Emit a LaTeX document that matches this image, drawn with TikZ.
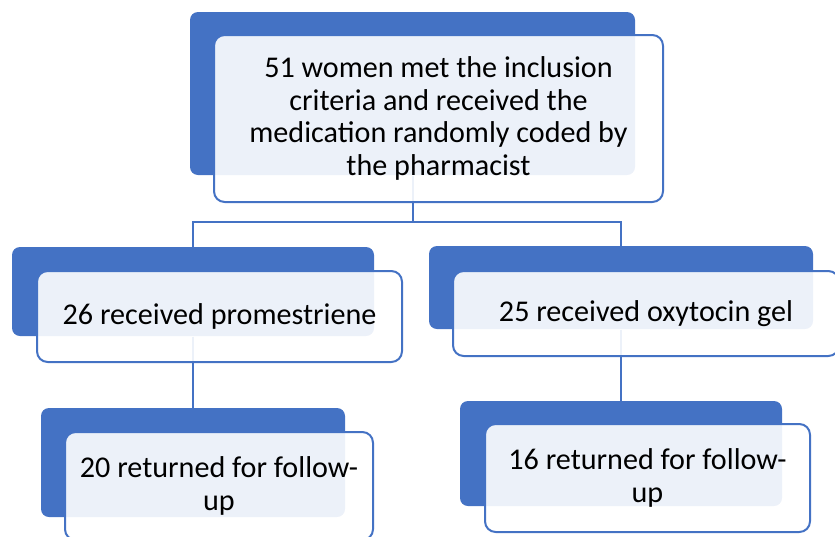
\documentclass[tikz,border=0pt]{standalone}
\usepackage{fontspec}
\setmainfont{Carlito}
\usetikzlibrary{backgrounds}

\definecolor{smartblue}{RGB}{68,114,196}

\tikzset{every picture/.style={line width=0.75pt}}
\tikzset{
  backbox/.style={fill=smartblue, rounded corners=6pt, inner sep=0pt},
  frontbox/.style={draw=smartblue, line width=1.5pt, fill=white, fill opacity=0.9, text opacity=1,
    rounded corners=8pt, inner sep=0pt, align=center, font=\fontsize{22.6}{24.5}\selectfont},
  conn/.style={draw=smartblue, line width=1.5pt}
}

\begin{document}
\begin{tikzpicture}[x=0.75pt,y=0.75pt,yscale=-1,xscale=1]
\useasboundingbox (0,0) rectangle (835,536);

% Back boxes
\node [backbox, minimum width=333.75pt, minimum height=122.25pt] (topbk) at (412.5,93.5) {};
\node [backbox, minimum width=271.5pt, minimum height=66.75pt] (prombk) at (193,291.5) {};
\node [backbox, minimum width=288pt, minimum height=62.25pt] (oxybk) at (621,287.5) {};
\node [backbox, minimum width=228pt, minimum height=81.75pt] (promfubk) at (193,462.5) {};
\node [backbox, minimum width=241.5pt, minimum height=78.75pt] (oxyfubk) at (621,453.5) {};

% Front boxes
\node [frontbox, minimum width=336.75pt, minimum height=125.25pt] (top) at (438.5,118.5)
  {51 women met the inclusion\\criteria and received the\\medication randomly coded by\\the pharmacist};
\node [frontbox, minimum width=273.75pt, minimum height=68.25pt] (prom) at (219.5,316.5)
  {26 received promestriene};
\node [frontbox, minimum width=289.5pt, minimum height=63.75pt] (oxy) at (646,313.5)
  {25 received oxytocin gel};
\node [frontbox, minimum width=231pt, minimum height=81pt] (promfu) at (219,486)
  {20 returned for follow-\\up};
\node [frontbox, minimum width=243.75pt, minimum height=81pt] (oxyfu) at (647.5,478)
  {16 returned for follow-\\up};

% Connectors
\coordinate (bus) at (412.5,222);
\begin{scope}[on background layer]
\draw [conn] (topbk) -- (bus) -| (prombk);
\draw [conn] (bus) -| (oxybk);
\draw [conn] (prombk) -- (promfubk);
\draw [conn] (oxybk) -- (oxyfubk);
\end{scope}

\end{tikzpicture}
\end{document}
